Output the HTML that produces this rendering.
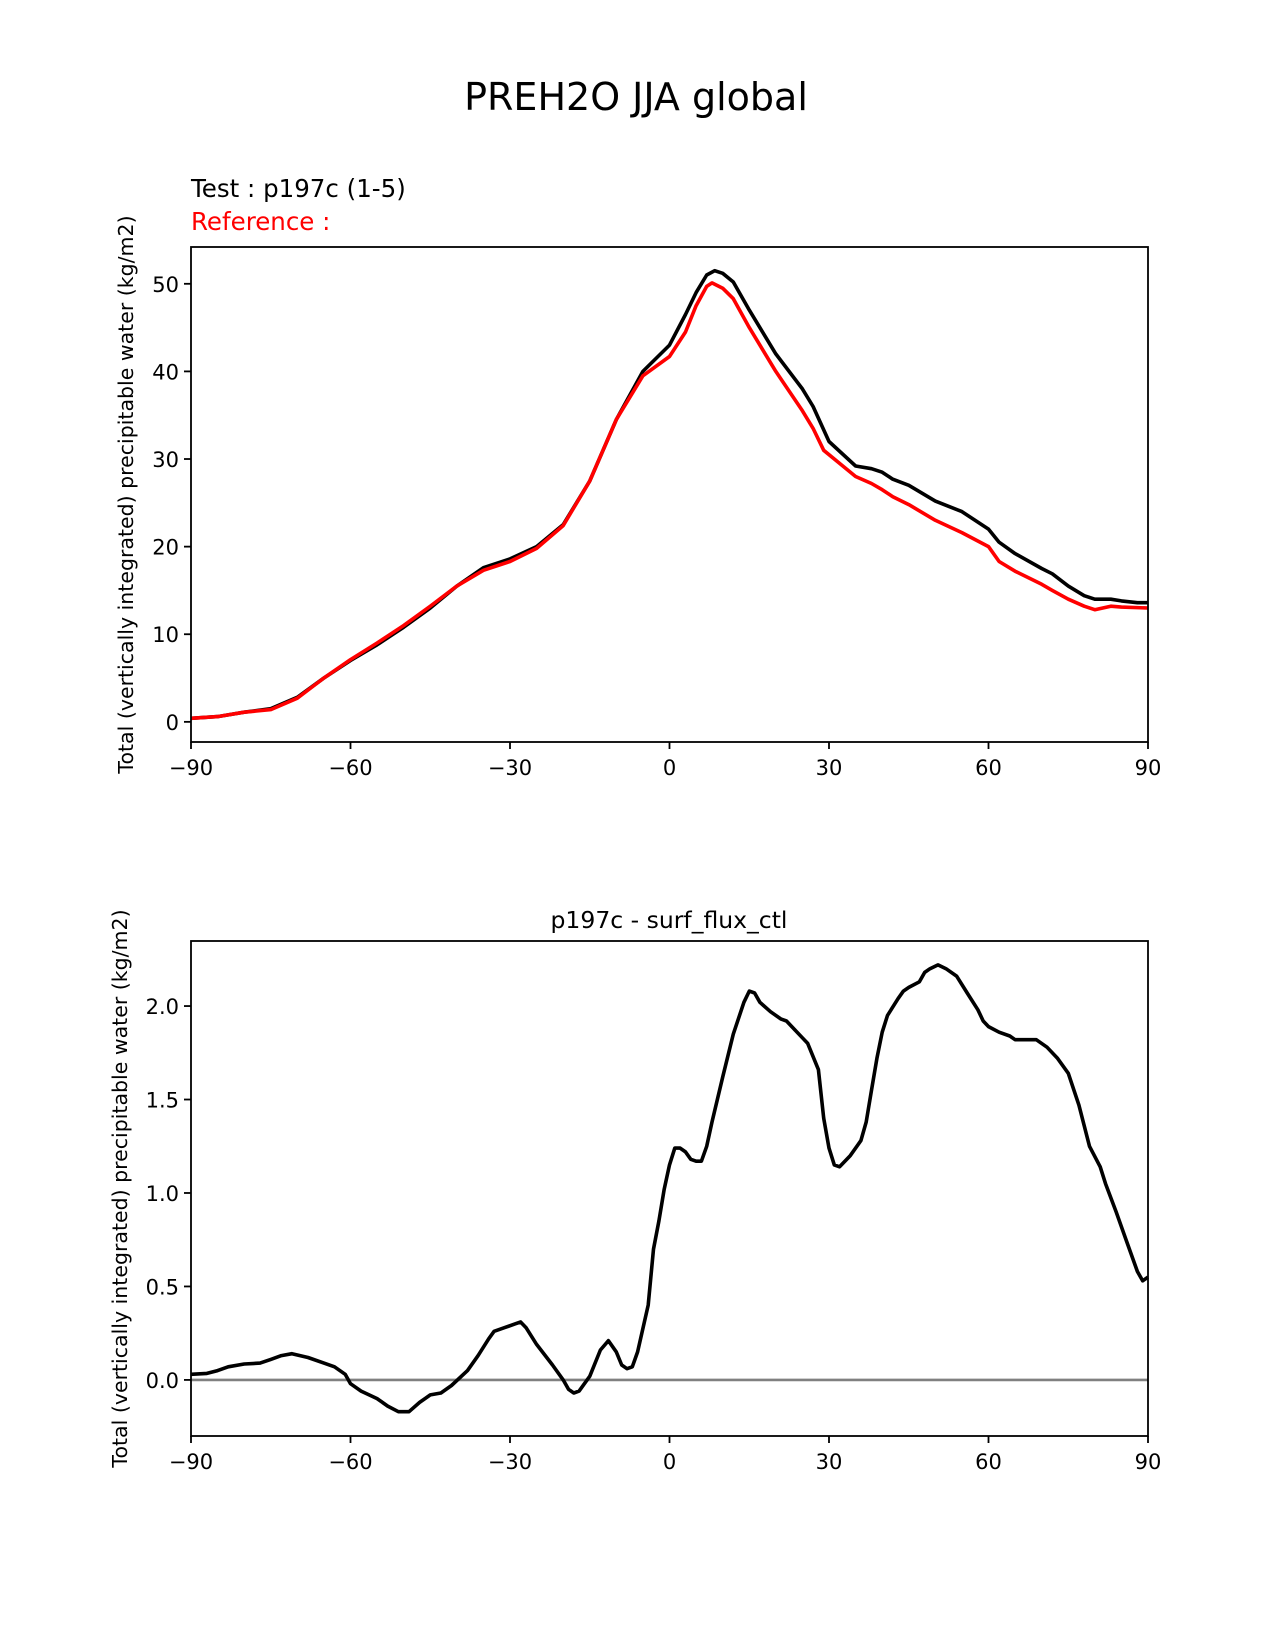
<!DOCTYPE html>
<html><head><meta charset="utf-8"><style>
html,body{margin:0;padding:0;background:#fff}
svg{display:block;font-family:"DejaVu Sans","Liberation Sans",sans-serif}
</style></head><body>
<svg id="fig" width="1275" height="1650" viewBox="0 0 1275 1650">
<text x="636" y="110" font-size="38" text-anchor="middle">PREH2O JJA global</text>
<text x="191" y="197" font-size="24.5">Test : p197c (1-5)</text>
<text x="191" y="230" font-size="24.5" fill="#ff0000">Reference :</text>
<text x="669" y="928" font-size="23.5" text-anchor="middle">p197c - surf_flux_ctl</text>
<g id="top"></g>
<g id="bot"></g>
</svg>
<script>
const latTop = [-90,-85,-80,-75,-70,-65,-60,-55,-50,-45,-40,-35,-30,-25,-20,-15,-10,-5,0,3,5,7,8.5,10,12,15,20,25,27,30,35,38,40,42,45,50,55,60,62,65,70,72,75,78,80,83,85,88,90];
const testVals = [0.4,0.6,1.1,1.5,2.8,5.0,7.0,8.8,10.8,13.0,15.5,17.6,18.6,20.0,22.5,27.5,34.5,40,43,46.5,49,51,51.5,51.2,50.2,47,42,38,36,32,29.2,28.9,28.5,27.7,27,25.2,24,22,20.5,19.2,17.5,16.9,15.5,14.4,14,14,13.8,13.6,13.6];
const latRef = [-90,-85,-80,-75,-70,-65,-60,-55,-50,-45,-40,-35,-30,-25,-20,-15,-10,-5,0,3,5,7,8,10,12,15,20,25,27,29,32,35,38,40,42,45,50,55,60,62,65,70,72,75,78,80,83,85,90];
const refVals = [0.4,0.6,1.1,1.4,2.7,5.0,7.1,9.0,11.0,13.2,15.5,17.3,18.3,19.8,22.4,27.5,34.5,39.5,41.7,44.5,47.5,49.7,50.1,49.5,48.3,45,40,35.5,33.5,31,29.5,28,27.2,26.5,25.7,24.8,23,21.6,20,18.3,17.2,15.7,15,14,13.2,12.8,13.2,13.1,13];
const topYTicks = [0,10,20,30,40,50];
const xTicks = [-90,-60,-30,0,30,60,90];
const latDiff = [-90,-87,-85,-83,-80,-77,-75,-73,-71,-68,-65,-63,-61,-60,-58,-55,-53,-51,-49,-47,-45,-43,-41,-38,-36,-34,-33,-31,-29,-28,-27,-25,-22,-20,-19,-18,-17,-15,-13,-11.5,-10,-9,-8,-7,-6,-4,-3,-2,-1,0,1,2,3,4,5,6,7,8,10,12,14,15,16,17,19,21,22,23,25,26,28,29,30,31,32,34,36,37,38,39,40,41,43,44,45,47,48,49,50.5,52,54,56,58,59,60,62,64,65,67,69,71,73,75,77,79,81,82,84,86,88,89,90];
const diffVals = [0.03,0.035,0.05,0.07,0.085,0.09,0.11,0.13,0.14,0.12,0.09,0.07,0.03,-0.02,-0.06,-0.1,-0.14,-0.17,-0.17,-0.12,-0.08,-0.07,-0.03,0.05,0.13,0.22,0.26,0.28,0.30,0.31,0.28,0.19,0.08,0.0,-0.05,-0.07,-0.06,0.02,0.16,0.21,0.15,0.08,0.06,0.07,0.15,0.4,0.7,0.85,1.02,1.15,1.24,1.24,1.22,1.18,1.17,1.17,1.25,1.38,1.62,1.85,2.02,2.08,2.07,2.02,1.97,1.93,1.92,1.89,1.83,1.8,1.66,1.4,1.24,1.15,1.14,1.2,1.28,1.38,1.55,1.72,1.86,1.95,2.04,2.08,2.1,2.13,2.18,2.2,2.22,2.2,2.16,2.07,1.98,1.92,1.89,1.86,1.84,1.82,1.82,1.82,1.78,1.72,1.64,1.47,1.25,1.14,1.05,0.9,0.74,0.58,0.53,0.55];
const botYTicks = [0.0,0.5,1.0,1.5,2.0];

const NS='http://www.w3.org/2000/svg';
function mk(tag, attrs, parent){const e=document.createElementNS(NS,tag);for(const k in attrs)e.setAttribute(k,attrs[k]);parent.appendChild(e);return e;}

function axes(g, box, ymin, ymax, yticks, fmt, ylabel){
  const xs = v => box.l + (v+90)/180*(box.r-box.l);
  const ys = v => box.b - (v-ymin)/(ymax-ymin)*(box.b-box.t);
  xTicks.forEach(t=>{
    const l=mk('line',{x1:xs(t),x2:xs(t),y1:box.b,y2:box.b+7,stroke:'#000','stroke-width':1.8},g);
    
    
    const tx=mk('text',{x:xs(t),y:box.b+33,'font-size':21,'text-anchor':'middle'},g);
    tx.textContent=(t<0?'\u2212'+(-t):''+t);
    
    
  });
  yticks.forEach(t=>{
    const l=mk('line',{x1:box.l-7,x2:box.l,y1:ys(t),y2:ys(t),stroke:'#000','stroke-width':1.8},g);
    
    
    const tx=mk('text',{x:box.l-12,y:ys(t)+8,'font-size':21,'text-anchor':'end'},g);
    tx.textContent=fmt(t);
    
    
  });
  const cy=(box.t+box.b)/2;
  const yl=mk('text',{x:0,y:0,'font-size':20.5,'text-anchor':'middle',transform:`translate(${box.yl},${cy}) rotate(-90)`},g);
  yl.textContent=ylabel;
  
  
  return {xs,ys};
}
function line(g, lats, vals, sc, color, w, name){
  const pts=lats.map((la,i)=>sc.xs(la).toFixed(1)+','+sc.ys(vals[i]).toFixed(1)).join(' ');
  const p=mk('polyline',{points:pts,fill:'none',stroke:color,'stroke-width':w,'stroke-linejoin':'round'},g);
  
  
}
function frame(g,box){
  const r=mk('rect',{x:box.l,y:box.t,width:box.r-box.l,height:box.b-box.t,fill:'none',stroke:'#000','stroke-width':1.8},g);
  
  
}
const YL='Total (vertically integrated) precipitable water (kg/m2)';
const gT=document.getElementById('top');
const boxT={l:191,r:1148,t:247,b:742,yl:133};
const sT=axes(gT,boxT,-2.3,54.2,topYTicks,v=>''+v,YL);
line(gT,latTop,testVals,sT,'#000',3.6,'test-line');
line(gT,latRef,refVals,sT,'#ff0000',3.6,'reference-line');
frame(gT,boxT);

const gB=document.getElementById('bot');
const boxB={l:191,r:1148,t:941,b:1436,yl:127};
const sB=axes(gB,boxB,-0.3,2.348,botYTicks,v=>v.toFixed(1),YL);
const z=mk('line',{x1:boxB.l,x2:boxB.r,y1:sB.ys(0),y2:sB.ys(0),stroke:'#808080','stroke-width':2.6},gB);


line(gB,latDiff,diffVals,sB,'#000',3.6,'difference-line');
frame(gB,boxB);
</script>
</body></html>
